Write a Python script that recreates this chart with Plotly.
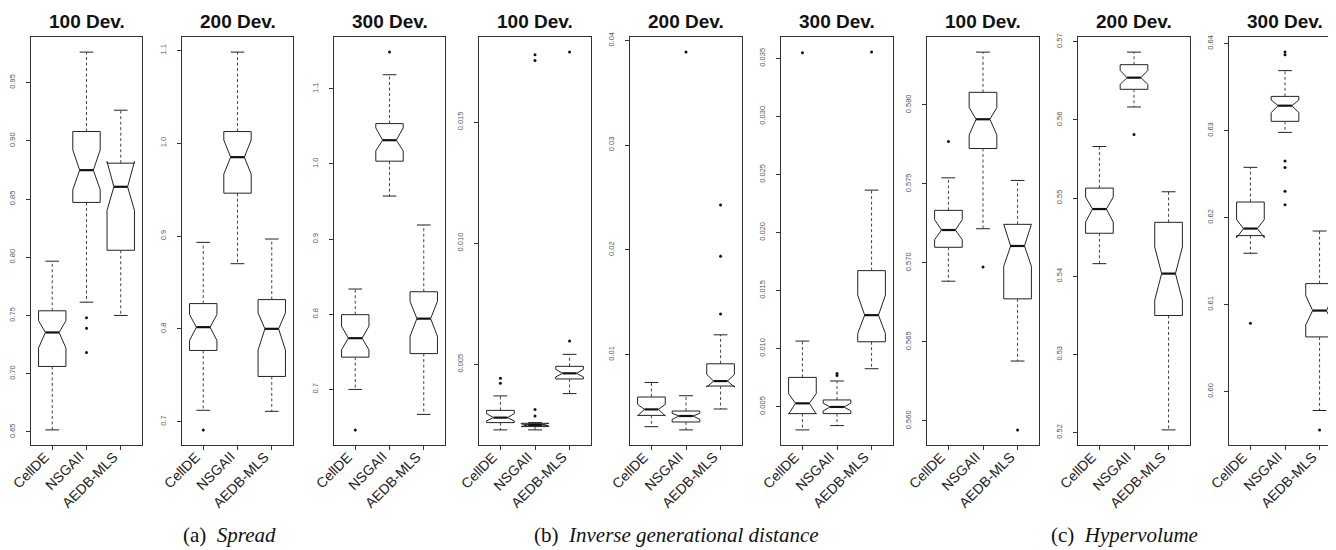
import plotly.graph_objects as go

algorithms = ["CellDE", "NSGAII", "AEDB-MLS"]
panel_titles = ["100 Dev.", "200 Dev.", "300 Dev.",
                "100 Dev.", "200 Dev.", "300 Dev.",
                "100 Dev.", "200 Dev.", "300 Dev."]
caption_tags = ["(a)", "(b)", "(c)"]
caption_names = ["Spread", "Inverse generational distance", "Hypervolume"]

# each row: [lower whisker, Q1, notch low, median, notch high, Q3, upper whisker]
spread_100 = [[0.6517, 0.7062, 0.7220, 0.7354, 0.7455, 0.7540, 0.7966],
              [0.7614, 0.8471, 0.8580, 0.8748, 0.8922, 0.9080, 0.9762],
              [0.7500, 0.8060, 0.8403, 0.8605, 0.8822, 0.8808, 0.9263]]
spread_100_out = [[], [0.7480, 0.7391, 0.7182], []]
spread_100_ticks = [0.65, 0.70, 0.75, 0.80, 0.85, 0.90, 0.95]
spread_100_labels = ["0.65", "0.70", "0.75", "0.80", "0.85", "0.90", "0.95"]

spread_200 = [[0.7122, 0.7767, 0.7874, 0.8018, 0.8154, 0.8272, 0.8932],
              [0.8702, 0.9462, 0.9667, 0.9850, 1.0035, 1.0126, 1.0982],
              [0.7111, 0.7487, 0.7770, 0.8000, 0.8172, 0.8315, 0.8968]]
spread_200_out = [[0.6911], [], []]
spread_200_ticks = [0.7, 0.8, 0.9, 1.0, 1.1]
spread_200_labels = ["0.7", "0.8", "0.9", "1.0", "1.1"]

spread_300 = [[0.7000, 0.7430, 0.7527, 0.7682, 0.7841, 0.7995, 0.8336],
              [0.9573, 1.0037, 1.0175, 1.0316, 1.0480, 1.0537, 1.1187],
              [0.6668, 0.7477, 0.7708, 0.7942, 0.8172, 0.8300, 0.9188]]
spread_300_out = [[0.6462], [1.1488], []]
spread_300_ticks = [0.7, 0.8, 0.9, 1.0, 1.1]
spread_300_labels = ["0.7", "0.8", "0.9", "1.0", "1.1"]

igd_100 = [[0.002294, 0.002595, 0.002665, 0.002800, 0.002966, 0.003100, 0.003696],
           [0.002294, 0.002430, 0.002460, 0.002500, 0.002540, 0.002566, 0.002595],
           [0.003791, 0.004397, 0.004480, 0.004629, 0.004794, 0.004918, 0.005413]]
igd_100_out = [[0.004422, 0.004216],
               [0.017776, 0.017540, 0.003131, 0.002871],
               [0.017888, 0.005965]]
igd_100_ticks = [0.005, 0.010, 0.015]
igd_100_labels = ["0.005", "0.010", "0.015"]

igd_200 = [[0.003108, 0.004185, 0.004150, 0.004757, 0.005234, 0.005939, 0.007330],
           [0.002800, 0.003556, 0.003800, 0.004128, 0.004376, 0.004600, 0.006063],
           [0.004795, 0.006988, 0.006890, 0.007462, 0.008093, 0.009113, 0.011880]]
igd_200_out = [[], [0.03888], [0.02427, 0.01938, 0.01388]]
igd_200_ticks = [0.01, 0.02, 0.03, 0.04]
igd_200_labels = ["0.01", "0.02", "0.03", "0.04"]

igd_300 = [[0.002997, 0.004398, 0.004360, 0.005284, 0.006117, 0.007519, 0.010648],
           [0.003367, 0.004398, 0.004630, 0.004974, 0.005300, 0.005576, 0.007209],
           [0.008266, 0.010588, 0.011301, 0.012883, 0.014602, 0.016717, 0.023654]]
igd_300_out = [[0.035492], [0.007862, 0.007690], [0.035543]]
igd_300_ticks = [0.005, 0.010, 0.015, 0.020, 0.025, 0.030, 0.035]
igd_300_labels = ["0.005", "0.010", "0.015", "0.020", "0.025", "0.030", "0.035"]

hv_100 = [[0.568844, 0.570992, 0.571472, 0.572085, 0.572736, 0.573330, 0.575389],
          [0.572167, 0.577246, 0.578105, 0.579097, 0.579836, 0.580802, 0.583348],
          [0.563790, 0.567726, 0.569791, 0.571074, 0.572445, 0.572445, 0.575224]]
hv_100_out = [[0.577690], [0.569747], [0.559431]]
hv_100_ticks = [0.560, 0.565, 0.570, 0.575, 0.580]
hv_100_labels = ["0.560", "0.565", "0.570", "0.575", "0.580"]

hv_200 = [[0.54161, 0.54550, 0.54694, 0.54860, 0.55013, 0.55128, 0.55660],
          [0.56166, 0.56392, 0.56455, 0.56541, 0.56634, 0.56707, 0.56868],
          [0.52034, 0.53498, 0.53694, 0.54034, 0.54375, 0.54690, 0.55081]]
hv_200_out = [[], [0.55813], []]
hv_200_ticks = [0.52, 0.53, 0.54, 0.55, 0.56, 0.57]
hv_200_labels = ["0.52", "0.53", "0.54", "0.55", "0.56", "0.57"]

hv_300 = [[0.61590, 0.61793, 0.61770, 0.61874, 0.61977, 0.62179, 0.62578],
          [0.62980, 0.63107, 0.63207, 0.63287, 0.63352, 0.63394, 0.63690],
          [0.59782, 0.60628, 0.60766, 0.60931, 0.61103, 0.61241, 0.61846]]
hv_300_out = [[0.60785], [0.63903, 0.63874, 0.62651, 0.62575, 0.62302, 0.62149], [0.59559]]
hv_300_ticks = [0.60, 0.61, 0.62, 0.63, 0.64]
hv_300_labels = ["0.60", "0.61", "0.62", "0.63", "0.64"]

panels = [
    (spread_100, spread_100_out, spread_100_ticks, spread_100_labels),
    (spread_200, spread_200_out, spread_200_ticks, spread_200_labels),
    (spread_300, spread_300_out, spread_300_ticks, spread_300_labels),
    (igd_100, igd_100_out, igd_100_ticks, igd_100_labels),
    (igd_200, igd_200_out, igd_200_ticks, igd_200_labels),
    (igd_300, igd_300_out, igd_300_ticks, igd_300_labels),
    (hv_100, hv_100_out, hv_100_ticks, hv_100_labels),
    (hv_200, hv_200_out, hv_200_ticks, hv_200_labels),
    (hv_300, hv_300_out, hv_300_ticks, hv_300_labels),
]

# ---- layout geometry (pixels) ----
W, H = 1336, 550
panel_left = [23, 174, 326, 471, 622, 773, 919, 1070, 1221]
panel_width = [111, 111, 111, 112, 112, 112, 112, 112, 112]
plot_top, plot_bottom = 29, 437
caption_center = [221, 668, 1116]
HALF = 0.4          # half box width (data units)
NOTCH_FRAC = 0.5
STAPLE = 0.2
BOX_COLOR = "#222222"
WHISK_COLOR = "#444444"
SANS = "Liberation Sans, Arial, sans-serif"

fig = go.Figure()
layout = dict(
    width=W, height=H, template="none",
    paper_bgcolor="white", plot_bgcolor="white",
    margin=dict(l=0, r=0, t=0, b=0),
    showlegend=False, annotations=[],
)

for i, (stats, outs, ticks, labels) in enumerate(panels):
    n = i + 1
    xa = "x" if n == 1 else f"x{n}"
    ya = "y" if n == 1 else f"y{n}"
    allvals = [v for row in stats for v in (row[0], row[6])] + [v for o in outs for v in o]
    lo, hi = min(allvals), max(allvals)
    ext = 0.04 * (hi - lo)
    for j, row in enumerate(stats):
        p = j + 1
        wlo, q1, nlo, med, nhi, q3, whi = row
        w = HALF
        wf = HALF * NOTCH_FRAC
        # notched box (R bxp polygon order)
        bx = [p - w, p + w, p + w, p + wf, p + w, p + w, p - w, p - w, p - wf, p - w, p - w]
        by = [q1, q1, nlo, med, nhi, q3, q3, nhi, med, nlo, q1]
        fig.add_trace(go.Scatter(x=bx, y=by, mode="lines", xaxis=xa, yaxis=ya,
                                 line=dict(color=BOX_COLOR, width=1), hoverinfo="skip",
                                 name=algorithms[j]))
        # median
        fig.add_trace(go.Scatter(x=[p - wf, p + wf], y=[med, med], mode="lines",
                                 xaxis=xa, yaxis=ya, line=dict(color="#111111", width=2.2),
                                 hoverinfo="skip", name=algorithms[j]))
        # whiskers
        fig.add_trace(go.Scatter(x=[p, p, None, p, p], y=[q1, wlo, None, q3, whi],
                                 mode="lines", xaxis=xa, yaxis=ya,
                                 line=dict(color=WHISK_COLOR, width=1, dash="3px,2.5px"),
                                 hoverinfo="skip", name=algorithms[j]))
        # staples
        fig.add_trace(go.Scatter(x=[p - STAPLE, p + STAPLE, None, p - STAPLE, p + STAPLE],
                                 y=[wlo, wlo, None, whi, whi], mode="lines",
                                 xaxis=xa, yaxis=ya, line=dict(color=BOX_COLOR, width=1),
                                 hoverinfo="skip", name=algorithms[j]))
        # outliers
        if outs[j]:
            fig.add_trace(go.Scatter(x=[p] * len(outs[j]), y=outs[j], mode="markers",
                                     xaxis=xa, yaxis=ya,
                                     marker=dict(color="#111111", size=3),
                                     hoverinfo="skip", name=algorithms[j]))
    x0 = panel_left[i] / W
    x1 = (panel_left[i] + panel_width[i]) / W
    y0 = 1 - plot_bottom / H
    y1 = 1 - plot_top / H
    layout["xaxis" if n == 1 else f"xaxis{n}"] = dict(
        domain=[x0, x1], anchor=ya, range=[0.38, 3.62],
        tickmode="array", tickvals=[1, 2, 3], ticktext=algorithms,
        showticklabels=False, ticks="outside", ticklen=4, tickcolor="#333333",
        showline=True, mirror=True, linecolor="#333333", linewidth=1,
        showgrid=False, zeroline=False, fixedrange=True,
    )
    layout["yaxis" if n == 1 else f"yaxis{n}"] = dict(
        domain=[y0, y1], anchor=xa, range=[lo - ext, hi + ext],
        tickmode="array", tickvals=ticks, ticktext=labels,
        tickangle=-90, ticks="outside", ticklen=4, tickcolor="#333333",
        ticklabelstandoff=8,
        tickfont=dict(family=SANS, size=7.5, color="#555555"),
        showline=True, mirror=True, linecolor="#333333", linewidth=1,
        showgrid=False, zeroline=False, fixedrange=True,
    )
    # rotated category labels, ending just below-right of each tick
    for j, name in enumerate(algorithms):
        layout["annotations"].append(dict(
            text=name, xref=xa, yref="paper", x=j + 1, y=y0,
            xanchor="right", yanchor="top", xshift=3, yshift=-1,
            textangle=-45, showarrow=False,
            font=dict(family=SANS, size=14, color="#222222"),
        ))
    layout["annotations"].append(dict(
        text="<b>" + panel_titles[i] + "</b>", xref="paper", yref="paper",
        x=(x0 + x1) / 2, y=1 - 13 / H, xanchor="center", yanchor="middle",
        showarrow=False,
        font=dict(family=SANS, size=19, color="#111111"),
    ))

for g in range(3):
    layout["annotations"].append(dict(
        text=caption_tags[g] + "&nbsp;&nbsp;<i>" + caption_names[g] + "</i>",
        xref="paper", yref="paper", x=caption_center[g] / W, y=1 - 527 / H,
        xanchor="center", yanchor="middle", showarrow=False,
        font=dict(family="Liberation Serif, Times New Roman, serif", size=21,
                  color="#111111"),
    ))

fig.update_layout(**layout)
fig.write_html("out.html")
